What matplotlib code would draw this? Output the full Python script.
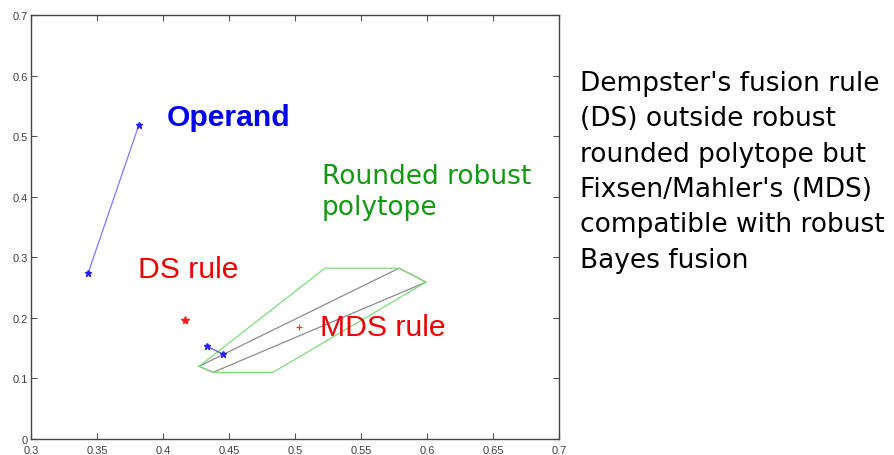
import matplotlib
matplotlib.use("Agg")
import matplotlib.pyplot as plt

plt.rcParams['font.family'] = ['Liberation Sans', 'DejaVu Sans']

# Operand segments (blue)
operand_x = [0.3432, 0.3818]
operand_y = [0.2735, 0.519]
operand2_x = [0.4333, 0.4455]
operand2_y = [0.153, 0.140]

# fusion results
ds_point = (0.4167, 0.196)
mds_point = (0.503, 0.185)

# rounded robust polytope (green) and robust polytope (gray)
rounded_x = [0.4273, 0.5227, 0.5788, 0.5992, 0.4833, 0.4379, 0.4273]
rounded_y = [0.120, 0.282, 0.282, 0.259, 0.110, 0.110, 0.120]
robust_x = [0.4273, 0.5788, 0.5992, 0.4379, 0.4273]
robust_y = [0.120, 0.282, 0.259, 0.110, 0.120]

xticks = [0.3, 0.35, 0.4, 0.45, 0.5, 0.55, 0.6, 0.65, 0.7]
yticks = [0, 0.1, 0.2, 0.3, 0.4, 0.5, 0.6, 0.7]

note_lines = ["Dempster's fusion rule",
              "(DS) outside robust",
              "rounded polytope but",
              "Fixsen/Mahler's (MDS)",
              "compatible with robust",
              "Bayes fusion"]

fig = plt.figure(figsize=(8.94, 4.56), dpi=100)
ax = fig.add_axes([0.0347, 0.0351, 0.5906, 0.9298])

ax.plot(robust_x, robust_y, color='#8c8c8c', lw=0.9)
ax.plot(rounded_x, rounded_y, color='#7ddc7d', lw=0.9)
ax.plot(operand_x, operand_y, color='#7b7bff', lw=0.9, marker='*', ms=5,
        mfc='#2020ff', mec='#2020ff')
ax.plot(operand2_x, operand2_y, color='#5050ff', lw=0.9, marker='*', ms=5,
        mfc='#2020ff', mec='#2020ff')
ax.plot(*ds_point, marker='*', ms=6, color='#ff2020', ls='none')
ax.plot(*mds_point, marker='+', ms=5, color='#ff3030', mew=0.9, ls='none')

ax.text(0.403, 0.519, "Operand", color='#0000f0', fontsize=21.7,
        fontweight='bold', va='baseline')
ax.text(0.381, 0.267, "DS rule", color='#f00000', fontsize=21.7, va='baseline')
ax.text(0.519, 0.171, "MDS rule", color='#f00000', fontsize=21.7, va='baseline')
ax.text(0.5205, 0.423, "Rounded robust", color='#119911', fontsize=19,
        family='DejaVu Sans', va='baseline')
ax.text(0.5205, 0.371, "polytope", color='#119911', fontsize=19,
        family='DejaVu Sans', va='baseline')

ax.set_xlim(0.3, 0.7)
ax.set_ylim(0, 0.7)
ax.set_xticks(xticks)
ax.set_xticklabels(["0.3", "0.35", "0.4", "0.45", "0.5", "0.55", "0.6", "0.65", "0.7"])
ax.set_yticks(yticks)
ax.set_yticklabels(["0", "0.1", "0.2", "0.3", "0.4", "0.5", "0.6", "0.7"])
ax.tick_params(direction='in', top=True, right=True, length=4, width=0.8,
               labelsize=8, labelcolor='#404040', color='#555555', pad=2)
ax.tick_params(axis='x', pad=4)
for s in ax.spines.values():
    s.set_color('#444444')
    s.set_linewidth(1.0)

for i, line in enumerate(note_lines):
    fig.text(0.649, 1 - (91 + i * 35.3) / 456, line, fontsize=19,
             family='DejaVu Sans', color='black', va='baseline')

fig.savefig("out.png", dpi=100)
